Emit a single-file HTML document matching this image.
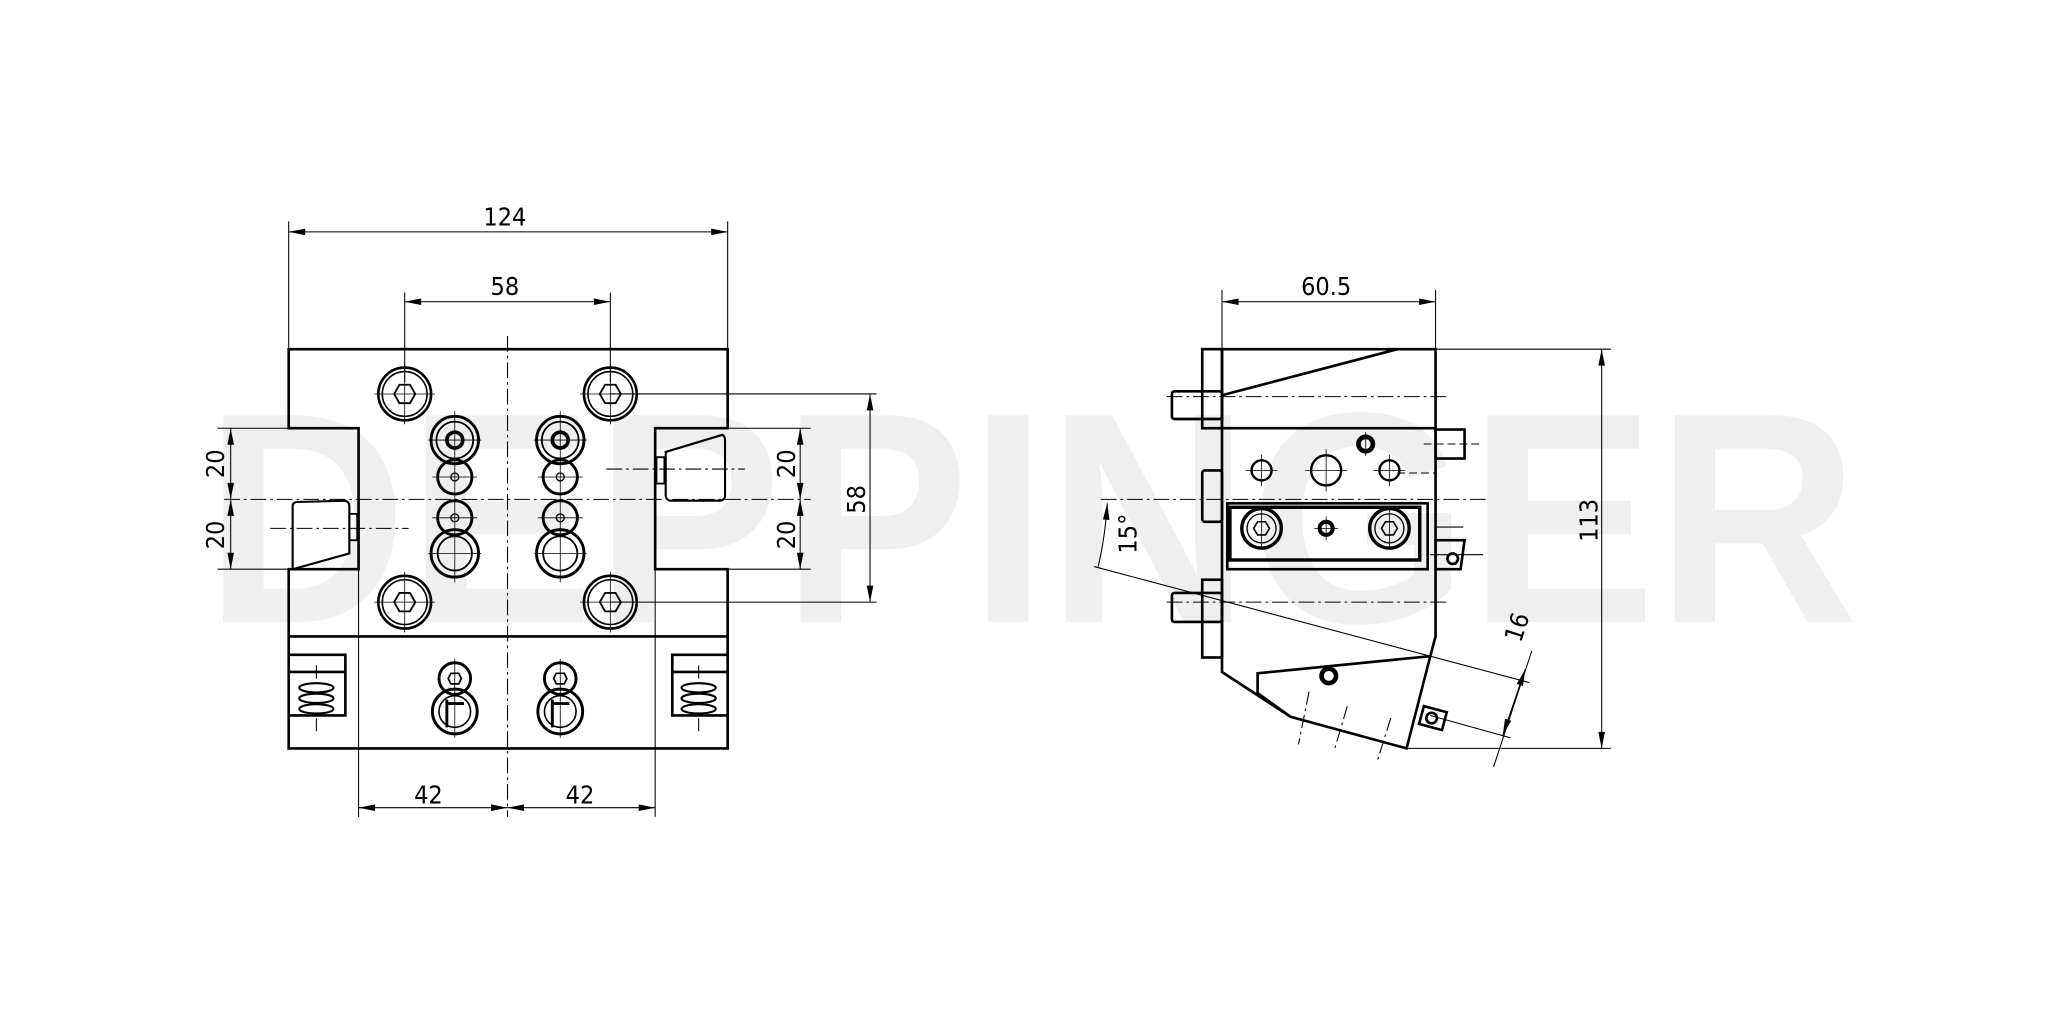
<!DOCTYPE html>
<html><head><meta charset="utf-8"><style>
html,body{margin:0;padding:0;background:#fff;}
svg{display:block}
text{font-family:"DejaVu Sans Condensed","Liberation Sans",sans-serif;fill:#000}
</style></head><body>
<svg width="2067" height="1033" viewBox="0 0 1568 784" preserveAspectRatio="none" xmlns="http://www.w3.org/2000/svg">
<defs>
<marker id="a" viewBox="0 0 10 4" refX="10" refY="2" markerWidth="14" markerHeight="5" markerUnits="userSpaceOnUse" orient="auto-start-reverse"><path d="M0,0 L10,2 L0,4 Z" fill="#000"/></marker>
</defs>
<!-- watermark -->
<text x="155" y="472" font-size="228" textLength="1255" lengthAdjust="spacingAndGlyphs" style="fill:#efefef;font-family:'Liberation Sans',sans-serif;font-weight:bold">DEPPINGER</text>

<g fill="none" stroke="#000" stroke-width="0.8">
<line x1="219" y1="168" x2="219" y2="265"/><line x1="552" y1="168" x2="552" y2="265"/>
<line x1="219" y1="176" x2="552" y2="176" marker-start="url(#a)" marker-end="url(#a)"/>
<line x1="307" y1="222" x2="307" y2="290"/><line x1="463" y1="222" x2="463" y2="290"/>
<line x1="307" y1="229" x2="463" y2="229" marker-start="url(#a)" marker-end="url(#a)"/>
<line x1="165" y1="325" x2="219" y2="325"/><line x1="165" y1="432" x2="219" y2="432"/>
<line x1="175" y1="325" x2="175" y2="379" marker-start="url(#a)" marker-end="url(#a)"/>
<line x1="175" y1="379" x2="175" y2="432" marker-start="url(#a)" marker-end="url(#a)"/>
<line x1="497" y1="325" x2="615" y2="325"/><line x1="497" y1="432" x2="615" y2="432"/>
<line x1="607" y1="325" x2="607" y2="379" marker-start="url(#a)" marker-end="url(#a)"/>
<line x1="607" y1="379" x2="607" y2="432" marker-start="url(#a)" marker-end="url(#a)"/>
<line x1="463" y1="299" x2="665" y2="299"/><line x1="463" y1="457" x2="665" y2="457"/>
<line x1="660" y1="299" x2="660" y2="457" marker-start="url(#a)" marker-end="url(#a)"/>
<line x1="272" y1="432" x2="272" y2="620"/><line x1="497" y1="432" x2="497" y2="620"/>
<line x1="272" y1="613" x2="385" y2="613" marker-start="url(#a)" marker-end="url(#a)"/>
<line x1="385" y1="613" x2="497" y2="613" marker-start="url(#a)" marker-end="url(#a)"/>
<line x1="385" y1="255" x2="385" y2="620" stroke-dasharray="12,3,2,3"/>
<line x1="170" y1="379" x2="615" y2="379" stroke-dasharray="12,3,2,3"/>
<line x1="205" y1="401" x2="310" y2="401" stroke-dasharray="12,3,2,3"/>
<line x1="460" y1="356" x2="565" y2="356" stroke-dasharray="12,3,2,3"/>
</g>

<g fill="none" stroke="#000" stroke-width="2">
<path d="M219,265 H552 V325 H497 V432 H552 V568 H219 V432 H272 V325 H219 Z"/>
<line x1="219" y1="483" x2="552" y2="483"/>
<path d="M219,497 H262 V543 H219 M219,510 H262"/>
<path d="M552,497 H510 V543 H552 M552,510 H510"/>
<path d="M222,384 Q222,381 226,381 L262,380 Q265,381 265,384 V420 L222,432 Z" stroke-width="1.6"/>
<rect x="265" y="390" width="6" height="20" stroke-width="1.4"/>
<path d="M505,343 L548,330 Q550,331 550,334 V377 Q549,380 546,380 H508 Q505,379 505,376 Z" stroke-width="1.6"/>
<rect x="498" y="347" width="6" height="20" stroke-width="1.4"/>
</g>
<g fill="none" stroke="#000" stroke-width="1.6">
<ellipse cx="240" cy="522" rx="13" ry="3.5"/><ellipse cx="240" cy="530" rx="13" ry="3.5"/><ellipse cx="240" cy="538" rx="13" ry="3.5"/>
<ellipse cx="530" cy="522" rx="13" ry="3.5"/><ellipse cx="530" cy="530" rx="13" ry="3.5"/><ellipse cx="530" cy="538" rx="13" ry="3.5"/>
</g>
<g stroke="#000" stroke-width="0.8"><line x1="240" y1="505" x2="240" y2="515"/><line x1="240" y1="545" x2="240" y2="555"/><line x1="530" y1="505" x2="530" y2="515"/><line x1="530" y1="545" x2="530" y2="555"/></g>

<g fill="none" stroke="#000">
<g id="bolt">
<circle cx="307" cy="299" r="20" stroke-width="2"/><circle cx="307" cy="299" r="17" stroke-width="1.2"/>
<polygon points="299,299 303,292 311,292 315,299 311,306 303,306" stroke-width="1.4"/>
<line x1="307" y1="276" x2="307" y2="322" stroke-width="0.6"/><line x1="284" y1="299" x2="330" y2="299" stroke-width="0.6"/>
</g>
<use href="#bolt" x="156"/><use href="#bolt" y="158"/><use href="#bolt" x="156" y="158"/>
<g id="col">
<circle cx="345" cy="334" r="18" stroke-width="2.2"/><circle cx="345" cy="334" r="14" stroke-width="1.4"/><circle cx="345" cy="334" r="6" stroke-width="2.8"/>
<circle cx="345" cy="362" r="13" stroke-width="2.2"/><circle cx="345" cy="362" r="3" stroke-width="1"/>
<circle cx="345" cy="393" r="13" stroke-width="2.2"/><circle cx="345" cy="393" r="3" stroke-width="1"/>
<circle cx="345" cy="420" r="18" stroke-width="2.2"/><circle cx="345" cy="420" r="13" stroke-width="1.4"/>
<line x1="345" y1="312" x2="345" y2="442" stroke-width="0.6"/>
<line x1="325" y1="334" x2="365" y2="334" stroke-width="0.6"/><line x1="328" y1="362" x2="362" y2="362" stroke-width="0.6"/>
<line x1="328" y1="393" x2="362" y2="393" stroke-width="0.6"/><line x1="325" y1="420" x2="365" y2="420" stroke-width="0.6"/>
<circle cx="345" cy="515" r="12" stroke-width="2.2"/><polygon points="340,515 342,511 348,511 350,515 348,519 342,519" stroke-width="1.3"/>
<circle cx="345" cy="540" r="17" stroke-width="2.2"/><circle cx="345" cy="540" r="12" stroke-width="1.2"/>
<path d="M339,531 V552 M339,534 H352" stroke-width="2.2"/>
<line x1="345" y1="500" x2="345" y2="560" stroke-width="0.6"/>
</g>
<use href="#col" x="80"/>
</g>

<!-- SIDE VIEW -->
<g fill="none" stroke="#000" stroke-width="0.8">
<line x1="927" y1="220" x2="927" y2="265"/><line x1="1089" y1="220" x2="1089" y2="265"/>
<line x1="927" y1="229" x2="1089" y2="229" marker-start="url(#a)" marker-end="url(#a)"/>
<line x1="1089" y1="265" x2="1222" y2="265"/><line x1="1067" y1="568" x2="1222" y2="568"/>
<line x1="1215" y1="265" x2="1215" y2="568" marker-start="url(#a)" marker-end="url(#a)"/>
<line x1="830" y1="430" x2="1160" y2="518"/>
<line x1="1085" y1="543" x2="1146" y2="560"/>
<line x1="1162" y1="494" x2="1133" y2="582"/>
<line x1="1157" y1="508" x2="1140" y2="558" marker-start="url(#a)" marker-end="url(#a)"/>
<path d="M840,382 Q838,410 833,430" marker-start="url(#a)"/>
<line x1="885" y1="301" x2="1100" y2="301" stroke-dasharray="12,3,2,3"/>
<line x1="885" y1="457" x2="1100" y2="457" stroke-dasharray="12,3,2,3"/>
<line x1="835" y1="379" x2="1130" y2="379" stroke-dasharray="12,3,2,3"/>
<line x1="1080" y1="337" x2="1125" y2="337" stroke-dasharray="6,3"/>
<line x1="1060" y1="359" x2="1090" y2="359" stroke-dasharray="6,3"/>
<line x1="1090" y1="400" x2="1110" y2="400"/>
<line x1="1085" y1="421" x2="1125" y2="421"/>
<line x1="993" y1="525" x2="985" y2="565" stroke-dasharray="10,3,2,3"/>
<line x1="1022" y1="536" x2="1012" y2="570" stroke-dasharray="10,3,2,3"/>
<line x1="1055" y1="545" x2="1045" y2="577" stroke-dasharray="10,3,2,3"/>
</g>
<g fill="none" stroke="#000" stroke-width="2">
<path d="M927,265 H1089 V483 L1085,498 L1067,568 L979,544 L954,526 L954,511 L1085,498 M927,265 V510 L979,544"/>
<line x1="927" y1="300" x2="1060" y2="265"/>
<line x1="927" y1="325" x2="1089" y2="325"/>
<rect x="931" y="382" width="152" height="50"/>
<rect x="933" y="385" width="144" height="40" stroke-width="2.6"/>
<rect x="889" y="297" width="38" height="21" rx="2"/>
<rect x="912" y="265" width="15" height="60"/>
<rect x="912" y="357" width="15" height="39" rx="2"/>
<rect x="889" y="450" width="38" height="22" rx="2"/>
<rect x="912" y="440" width="15" height="59"/>
<rect x="1089" y="326" width="22" height="22"/>
<path d="M1089,410 H1111 L1108,432 H1089 Z"/>
<circle cx="1102" cy="424" r="4"/>
<rect x="1078" y="538" width="18" height="14" transform="rotate(15 1087 545)"/>
<circle cx="1086" cy="545" r="4"/>
</g>
<g fill="none" stroke="#000">
<circle cx="957" cy="357" r="7.6" stroke-width="1.8"/>
<circle cx="1006" cy="357" r="11.4" stroke-width="1.8"/>
<circle cx="1054" cy="357" r="7.6" stroke-width="1.8"/>
<circle cx="1036" cy="337" r="5.5" stroke-width="3.5"/>
<circle cx="957" cy="401" r="15" stroke-width="2.6"/><circle cx="957" cy="401" r="11" stroke-width="1"/>
<polygon points="951,401 954,396 960,396 963,401 960,406 954,406" stroke-width="1.2"/>
<circle cx="1006" cy="401" r="5" stroke-width="3"/>
<circle cx="1054" cy="401" r="15" stroke-width="2.6"/><circle cx="1054" cy="401" r="11" stroke-width="1"/>
<polygon points="1048,401 1051,396 1057,396 1060,401 1057,406 1051,406" stroke-width="1.2"/>
<circle cx="1008" cy="513" r="5.5" stroke-width="3.5"/>
<g stroke-width="0.6">
<line x1="945" y1="357" x2="969" y2="357"/><line x1="957" y1="345" x2="957" y2="369"/>
<line x1="990" y1="357" x2="1022" y2="357"/><line x1="1006" y1="341" x2="1006" y2="373"/>
<line x1="1042" y1="357" x2="1066" y2="357"/><line x1="1054" y1="345" x2="1054" y2="369"/>
<line x1="1036" y1="328" x2="1036" y2="346"/>
<line x1="1006" y1="392" x2="1006" y2="410"/><line x1="997" y1="401" x2="1015" y2="401"/>
<line x1="957" y1="385" x2="957" y2="417"/><line x1="1054" y1="385" x2="1054" y2="417"/>
</g>
</g>

<g font-size="19">
<text x="383" y="171" text-anchor="middle">124</text>
<text x="383" y="224" text-anchor="middle">58</text>
<text x="325" y="610" text-anchor="middle">42</text>
<text x="440" y="610" text-anchor="middle">42</text>
<text x="1006" y="224" text-anchor="middle">60.5</text>
<text transform="translate(170,352) rotate(-90)" text-anchor="middle">20</text>
<text transform="translate(170,406) rotate(-90)" text-anchor="middle">20</text>
<text transform="translate(603,352) rotate(-90)" text-anchor="middle">20</text>
<text transform="translate(603,406) rotate(-90)" text-anchor="middle">20</text>
<text transform="translate(656,379) rotate(-90)" text-anchor="middle">58</text>
<text transform="translate(1212,395) rotate(-90)" text-anchor="middle">113</text>
<text transform="translate(862,405) rotate(-90)" text-anchor="middle">15°</text>
<text transform="translate(1157,478) rotate(-72)" text-anchor="middle">16</text>
</g>
</svg>
</body></html>
